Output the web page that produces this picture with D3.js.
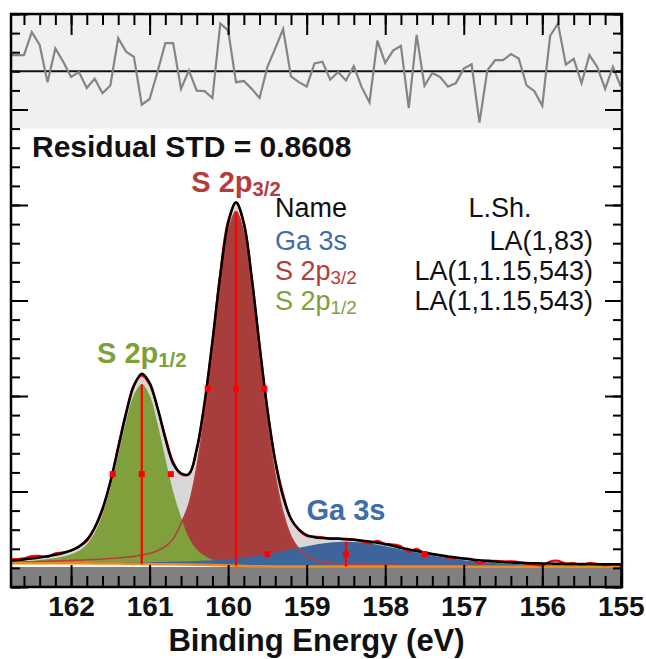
<!DOCTYPE html>
<html>
<head>
<meta charset="utf-8">
<script src="https://cdn.jsdelivr.net/npm/d3@7"></script>
<style>
  body { margin: 0; background: #fff; }
  svg text { font-family: "Liberation Sans", Arial, sans-serif; }
</style>
</head>
<body>
<div id="chart"></div>
<script>
// binding energy grid (eV)
const energy = [162.8, 162.7, 162.6, 162.5, 162.4, 162.3, 162.2, 162.1, 162.0, 161.9,
  161.8, 161.7, 161.6, 161.5, 161.4, 161.3, 161.2, 161.1, 161.0, 160.9,
  160.8, 160.7, 160.6, 160.5, 160.4, 160.3, 160.2, 160.1, 160.0, 159.9,
  159.8, 159.7, 159.6, 159.5, 159.4, 159.3, 159.2, 159.1, 159.0, 158.9,
  158.8, 158.7, 158.6, 158.5, 158.4, 158.3, 158.2, 158.1, 158.0, 157.9,
  157.8, 157.7, 157.6, 157.5, 157.4, 157.3, 157.2, 157.1, 157.0, 156.9,
  156.8, 156.7, 156.6, 156.5, 156.4, 156.3, 156.2, 156.1, 156.0, 155.9,
  155.8, 155.7, 155.6, 155.5, 155.4, 155.3, 155.2, 155.1, 155.0];

// Shirley background
const background = [0.248, 0.248, 0.248, 0.248, 0.248, 0.248, 0.248, 0.248, 0.248, 0.248,
  0.248, 0.247, 0.247, 0.246, 0.245, 0.244, 0.243, 0.242, 0.240, 0.239,
  0.238, 0.237, 0.236, 0.235, 0.234, 0.232, 0.230, 0.228, 0.225, 0.222,
  0.220, 0.218, 0.217, 0.216, 0.215, 0.215, 0.214, 0.214, 0.214, 0.214,
  0.214, 0.214, 0.214, 0.214, 0.214, 0.214, 0.214, 0.214, 0.214, 0.214,
  0.214, 0.214, 0.214, 0.214, 0.214, 0.214, 0.214, 0.214, 0.214, 0.213,
  0.213, 0.213, 0.213, 0.213, 0.213, 0.213, 0.213, 0.213, 0.213, 0.213,
  0.213, 0.213, 0.213, 0.213, 0.213, 0.213, 0.213, 0.213, 0.213];

// components (height above background)
const ga3s = [0.006, 0.007, 0.008, 0.008, 0.008, 0.009, 0.009, 0.009, 0.010, 0.010,
  0.011, 0.012, 0.013, 0.013, 0.014, 0.015, 0.017, 0.018, 0.020, 0.022,
  0.024, 0.027, 0.030, 0.034, 0.039, 0.045, 0.051, 0.059, 0.067, 0.077,
  0.089, 0.101, 0.115, 0.130, 0.146, 0.163, 0.179, 0.197, 0.213, 0.228,
  0.241, 0.251, 0.257, 0.260, 0.257, 0.251, 0.241, 0.228, 0.213, 0.197,
  0.179, 0.163, 0.146, 0.130, 0.115, 0.101, 0.089, 0.077, 0.067, 0.059,
  0.051, 0.045, 0.039, 0.034, 0.030, 0.027, 0.024, 0.022, 0.020, 0.018,
  0.017, 0.015, 0.014, 0.013, 0.013, 0.012, 0.011, 0.010, 0.010];

const s2p32 = [0.008, 0.010, 0.012, 0.015, 0.018, 0.021, 0.025, 0.028, 0.031, 0.033,
  0.037, 0.041, 0.046, 0.052, 0.059, 0.067, 0.078, 0.093, 0.111, 0.141,
  0.186, 0.267, 0.427, 0.631, 1.013, 1.562, 2.237, 2.938, 3.491, 3.710,
  3.487, 2.912, 2.189, 1.503, 0.946, 0.557, 0.315, 0.186, 0.111, 0.074,
  0.052, 0.037, 0.030, 0.022, 0.019, 0.015, 0.015, 0.015, 0.015, 0.015,
  0.011, 0.011, 0.011, 0.011, 0.011, 0.011, 0.011, 0.011, 0.011, 0.011,
  0.011, 0.011, 0.009, 0.009, 0.009, 0.009, 0.009, 0.009, 0.009, 0.009,
  0.009, 0.009, 0.009, 0.009, 0.009, 0.009, 0.009, 0.009, 0.009];

const s2p12 = [0.012, 0.016, 0.021, 0.027, 0.035, 0.045, 0.056, 0.071, 0.094, 0.132,
  0.197, 0.320, 0.513, 0.791, 1.134, 1.489, 1.769, 1.880, 1.767, 1.476,
  1.109, 0.761, 0.498, 0.282, 0.160, 0.094, 0.056, 0.038, 0.026, 0.019,
  0.015, 0.011, 0.009, 0.008, 0.008, 0.008, 0.007, 0.007, 0.006, 0.006,
  0.006, 0.006, 0.006, 0.006, 0.006, 0.006, 0.006, 0.006, 0.006, 0.006,
  0.006, 0.006, 0.006, 0.006, 0.006, 0.006, 0.006, 0.006, 0.006, 0.005,
  0.005, 0.005, 0.005, 0.005, 0.005, 0.005, 0.005, 0.005, 0.005, 0.005,
  0.005, 0.005, 0.005, 0.005, 0.005, 0.005, 0.005, 0.005, 0.005];

// normalised residual (top panel)
const residual = [0.85, 0.85, 0.85, 2.05, 1.38, -0.57, 1.20, 0.50, -0.30, -0.04,
  -0.87, -0.39, -1.15, -0.74, 1.73, 1.03, 0.76, -1.75, -1.45, -0.04,
  1.47, 1.47, -0.92, 0.05, -1.01, -1.04, -1.40, 2.50, 2.14, -0.57,
  -0.51, -0.92, -1.40, 0.23, 1.20, 2.21, -0.27, -0.57, -0.80, 0.41,
  0.50, -0.44, -0.04, -0.48, 0.27, -0.83, -1.63, 1.61, 0.44, 1.08,
  1.33, -1.93, 1.91, -0.76, -0.09, -0.30, -0.80, -0.62, 0.14, 0.37,
  -2.69, 0.05, 0.58, 0.58, 0.90, 0.67, -0.74, -1.04, -1.81, 1.86,
  2.50, 0.35, 0.65, -0.62, 0.85, 0.23, -0.92, 0.23, -0.80];

// peak table
const peakNames = ["Ga 3s", "S 2p3/2", "S 2p1/2"];
const peakCenters = [158.5, 159.9, 161.1];
const peakFwhm = [2.0, 0.72, 0.74];
const lineShapes = ["LA(1,83)", "LA(1,1.15,543)", "LA(1,1.15,543)"];
const residualStd = "0.8608";

const xMajor = [162, 161, 160, 159, 158, 157, 156, 155];
const yMajor = [0, 1, 2, 3, 4, 5, 6];

const width = 646, height = 659;
const frame = { left: 11, right: 622, top: 14, bottom: 587 };

const svg = d3.select("#chart")
  .append("svg")
  .attr("width", width)
  .attr("height", height);

const x = d3.scaleLinear().domain([162.765, 154.985]).range([frame.left, frame.right]);
const y = d3.scaleLinear().domain([0, 6]).range([frame.bottom, frame.top]);
const yRes = d3.scaleLinear().domain([-3, 3]).range([y(4.8), y(6)]);

const colors = {
  green: "#80a03e", red: "#a83e3c", blue: "#3d659c",
  greenText: "#7da13a", redText: "#b43c3b", blueText: "#3e6dab",
  envFill: "#d8d8d8", bg: "#f28a1a", outline: "#b53f3d"
};

// table of points
const rows = energy.map((e, i) => {
  const env = background[i] + ga3s[i] + s2p32[i] + s2p12[i];
  return {
    e: e, bg: background[i], ga: ga3s[i], p32: s2p32[i], p12: s2p12[i],
    env: env, res: residual[i], raw: env + residual[i] * 0.012
  };
});

svg.append("defs").append("clipPath").attr("id", "clip")
  .append("rect")
  .attr("x", frame.left).attr("y", frame.top)
  .attr("width", frame.right - frame.left)
  .attr("height", frame.bottom - frame.top);

const plot = svg.append("g").attr("clip-path", "url(#clip)");

// residual panel
plot.append("rect")
  .attr("x", frame.left).attr("y", y(6))
  .attr("width", frame.right - frame.left)
  .attr("height", y(4.8) - y(6))
  .attr("fill", "#f0f0f0");

plot.append("line")
  .attr("x1", frame.left).attr("x2", frame.right)
  .attr("y1", yRes(0)).attr("y2", yRes(0))
  .attr("stroke", "#111").attr("stroke-width", 2);

plot.append("path")
  .datum(rows)
  .attr("fill", "none")
  .attr("stroke", "#858585")
  .attr("stroke-width", 2.2)
  .attr("d", d3.line().x(d => x(d.e)).y(d => yRes(d.res)));

// grey band under the baseline
plot.append("rect")
  .attr("x", frame.left).attr("y", y(0.21))
  .attr("width", frame.right - frame.left)
  .attr("height", y(0) - y(0.21))
  .attr("fill", "#808080");

const curve = d3.curveCatmullRom;

// envelope area
plot.append("path")
  .datum(rows)
  .attr("fill", colors.envFill)
  .attr("d", d3.area().curve(curve).x(d => x(d.e)).y0(d => y(d.bg)).y1(d => y(d.env)));

// components
function compArea(key) {
  return d3.area().curve(curve)
    .x(d => x(d.e))
    .y0(d => y(d.bg))
    .y1(d => y(d.bg + d[key]));
}

plot.append("path").datum(rows).attr("fill", colors.red).attr("d", compArea("p32"));
plot.append("path").datum(rows).attr("fill", colors.green).attr("d", compArea("p12"));
plot.append("path").datum(rows).attr("fill", colors.blue).attr("d", compArea("ga"));

// S 2p3/2 outline still visible over the others
plot.append("path")
  .datum(rows)
  .attr("fill", "none")
  .attr("stroke", colors.outline)
  .attr("stroke-width", 1.6)
  .attr("d", d3.line().curve(curve).x(d => x(d.e)).y(d => y(d.bg + d.p32)));

// background line
plot.append("path")
  .datum(rows)
  .attr("fill", "none")
  .attr("stroke", colors.bg)
  .attr("stroke-width", 2.5)
  .attr("d", d3.line().x(d => x(d.e)).y(d => y(d.bg)));

// raw data
plot.append("path")
  .datum(rows)
  .attr("fill", "none")
  .attr("stroke", "#ff0000")
  .attr("stroke-width", 2.2)
  .attr("d", d3.line().curve(curve).x(d => x(d.e)).y(d => y(d.raw)));

// envelope line
plot.append("path")
  .datum(rows)
  .attr("fill", "none")
  .attr("stroke", "#000")
  .attr("stroke-width", 2.5)
  .attr("d", d3.line().curve(curve).x(d => x(d.e)).y(d => y(d.env)));

// peak markers: centre line, FWHM points
const compKeys = ["ga", "p32", "p12"];
peakCenters.forEach((c, k) => {
  const idx = energy.findIndex(e => Math.abs(e - c) < 1e-6);
  const r = rows[idx];
  const h = r[compKeys[k]];
  plot.append("line")
    .attr("x1", x(c)).attr("x2", x(c))
    .attr("y1", y(r.bg)).attr("y2", y(r.bg + h))
    .attr("stroke", "#ff0000").attr("stroke-width", 2.2);
  [c - peakFwhm[k] / 2, c, c + peakFwhm[k] / 2].forEach(p => {
    plot.append("rect")
      .attr("x", x(p) - 3).attr("y", y(r.bg + h / 2) - 3)
      .attr("width", 6).attr("height", 6)
      .attr("fill", "#ff0000");
  });
});

// peak labels
function subLabel(sel, name) {
  const m = name.match(/^(.*p)(\d\/\d)$/);
  if (m) {
    sel.append("tspan").text(m[1]);
    sel.append("tspan").attr("font-size", "0.7em").attr("dy", "0.22em").text(m[2]);
  } else {
    sel.text(name);
  }
}

const labelY = { "Ga 3s": 520, "S 2p3/2": 192, "S 2p1/2": 363 };
const labelColor = [colors.blueText, colors.redText, colors.greenText];
peakNames.forEach((n, k) => {
  const t = svg.append("text")
    .attr("x", x(peakCenters[k]))
    .attr("y", labelY[n])
    .attr("text-anchor", "middle")
    .attr("font-size", 29)
    .attr("font-weight", "bold")
    .attr("fill", labelColor[k]);
  subLabel(t, n);
});

svg.append("text")
  .attr("x", 32).attr("y", 157)
  .attr("font-size", 30).attr("font-weight", "bold")
  .attr("fill", "#111")
  .text("Residual STD = " + residualStd);

// legend table
const legend = svg.append("g").attr("font-size", 27).attr("fill", "#111");
legend.append("text").attr("x", 275).attr("y", 217).text("Name");
legend.append("text").attr("x", 500).attr("y", 217).attr("text-anchor", "middle").text("L.Sh.");
peakNames.forEach((n, k) => {
  const ty = 250 + k * 30;
  const t = legend.append("text").attr("x", 275).attr("y", ty).attr("fill", labelColor[k]);
  subLabel(t, n);
  legend.append("text").attr("x", 593).attr("y", ty).attr("text-anchor", "end").text(lineShapes[k]);
});

// axes, all ticks pointing inward
function styleAxis(g) {
  g.select(".domain").remove();
  g.selectAll(".tick line").attr("stroke", "#000").attr("stroke-width", 2);
}

const xMinor = x.ticks(40);
const yMinor = y.ticks(30);

svg.append("g").attr("transform", `translate(0,${frame.bottom})`)
  .call(d3.axisBottom(x).tickValues(xMinor).tickSize(-11).tickFormat(""))
  .call(styleAxis);
const xAxis = svg.append("g").attr("transform", `translate(0,${frame.bottom})`)
  .call(d3.axisBottom(x).tickValues(xMajor).tickSize(-22).tickPadding(9).tickFormat(d3.format("d")))
  .call(styleAxis);
xAxis.selectAll("text")
  .attr("fill", "#111")
  .style("font-family", "'Liberation Sans', Arial, sans-serif")
  .style("font-size", "28px")
  .style("font-weight", "bold");

svg.append("g").attr("transform", `translate(0,${frame.top})`)
  .call(d3.axisTop(x).tickValues(xMinor).tickSize(-11).tickFormat(""))
  .call(styleAxis);
svg.append("g").attr("transform", `translate(0,${frame.top})`)
  .call(d3.axisTop(x).tickValues(xMajor).tickSize(-21).tickFormat(""))
  .call(styleAxis);

svg.append("g").attr("transform", `translate(${frame.left},0)`)
  .call(d3.axisLeft(y).tickValues(yMinor).tickSize(-9).tickFormat(""))
  .call(styleAxis);
svg.append("g").attr("transform", `translate(${frame.left},0)`)
  .call(d3.axisLeft(y).tickValues(yMajor).tickSize(-17).tickFormat(""))
  .call(styleAxis);
svg.append("g").attr("transform", `translate(${frame.right},0)`)
  .call(d3.axisRight(y).tickValues(yMinor).tickSize(-9).tickFormat(""))
  .call(styleAxis);
svg.append("g").attr("transform", `translate(${frame.right},0)`)
  .call(d3.axisRight(y).tickValues(yMajor).tickSize(-17).tickFormat(""))
  .call(styleAxis);

// frame
svg.append("rect")
  .attr("x", frame.left).attr("y", frame.top)
  .attr("width", frame.right - frame.left)
  .attr("height", frame.bottom - frame.top)
  .attr("fill", "none")
  .attr("stroke", "#000")
  .attr("stroke-width", 2.5);

svg.append("text")
  .attr("x", (frame.left + frame.right) / 2)
  .attr("y", 651)
  .attr("text-anchor", "middle")
  .attr("font-size", 31)
  .attr("font-weight", "bold")
  .attr("fill", "#111")
  .text("Binding Energy (eV)");
</script>
</body>
</html>
